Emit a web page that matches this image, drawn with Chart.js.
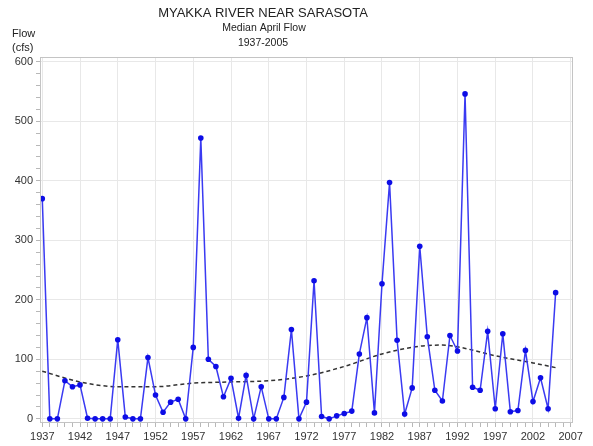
<!DOCTYPE html>
<html>
<head>
<meta charset="utf-8">
<script src="https://cdn.jsdelivr.net/npm/chart.js@4.4.1/dist/chart.umd.min.js"></script>
<style>
  html, body { margin: 0; padding: 0; background: #fff; }
  #wrap { width: 593px; height: 446px; }
</style>
</head>
<body>
<div id="wrap"><canvas id="flowChart" width="593" height="446"></canvas></div>
<script>
const years = [1937, 1938, 1939, 1940, 1941, 1942, 1943, 1944, 1945, 1946,
               1947, 1948, 1949, 1950, 1951, 1952, 1953, 1954, 1955, 1956,
               1957, 1958, 1959, 1960, 1961, 1962, 1963, 1964, 1965, 1966,
               1967, 1968, 1969, 1970, 1971, 1972, 1973, 1974, 1975, 1976,
               1977, 1978, 1979, 1980, 1981, 1982, 1983, 1984, 1985, 1986,
               1987, 1988, 1989, 1990, 1991, 1992, 1993, 1994, 1995, 1996,
               1997, 1998, 1999, 2000, 2001, 2002, 2003, 2004, 2005];
const medianFlow = [370, 0, 0, 64, 54, 57, 1, 0, 0, 0,
                    133, 3, 0, 0, 103, 40, 11, 28, 33, 0,
                    120, 472, 100, 88, 37, 68, 1, 73, 0, 54,
                    0, 0, 36, 150, 0, 28, 232, 4, 0, 5,
                    9, 13, 109, 170, 10, 227, 397, 132, 8, 52,
                    290, 138, 48, 30, 140, 114, 546, 53, 48, 147,
                    17, 143, 12, 14, 115, 29, 69, 17, 212];
// dashed trend curve, read at a few years
const trendYears = [1937, 1942, 1947, 1952, 1957, 1962, 1967, 1972, 1977, 1982, 1987, 1990, 1992, 1997, 2002, 2005];
const trendFlow  = [80, 62, 54, 54, 60, 62, 64, 72, 88, 109, 122, 124, 121, 106, 94, 86];
const yTicks = [0, 100, 200, 300, 400, 500, 600];

const FONT = "'Liberation Sans', Arial, sans-serif";

// frame + titles drawn on top
const decor = {
    id: "decor",
    afterDraw(chart) {
        const c = chart.ctx;
        const a = chart.chartArea;
        c.save();
        c.strokeStyle = "#c4c4c4";
        c.lineWidth = 1;
        c.strokeRect(a.left + 0.5, a.top + 0.5, a.right - a.left - 1, a.bottom - a.top - 1);

        c.fillStyle = "#222";
        c.textAlign = "center";
        c.textBaseline = "middle";
        c.font = "13px " + FONT;
        c.fillText("MYAKKA RIVER NEAR SARASOTA", 263, 13);
        c.font = "10.5px " + FONT;
        c.fillText("Median April Flow", 264, 28);
        c.fillText("1937-2005", 263, 43);

        c.textAlign = "left";
        c.font = "11px " + FONT;
        c.fillText("Flow", 12, 34);
        c.fillText("(cfs)", 12, 48);
        c.restore();
    }
};

const ctx = document.getElementById("flowChart").getContext("2d");
const chart = new Chart(ctx, {
    type: "line",
    data: {
        datasets: [{
            label: "Median April Flow",
            data: years.map((y, i) => ({ x: y, y: medianFlow[i] })),
            borderColor: "#3a3af2",
            borderWidth: 1.5,
            pointRadius: 2.8,
            pointBackgroundColor: "#0d0de6",
            pointBorderColor: "#0d0de6",
            pointBorderWidth: 0,
            tension: 0
        }, {
            label: "Trend",
            data: trendYears.map((y, i) => ({ x: y, y: trendFlow[i] })),
            borderColor: "#333",
            borderWidth: 1.5,
            borderDash: [4, 3],
            pointRadius: 0,
            cubicInterpolationMode: "monotone",
            fill: false
        }]
    },
    options: {
        responsive: false,
        animation: false,
        layout: { padding: { left: 0, right: 20, top: 57, bottom: 0 } },
        plugins: {
            legend: { display: false },
            tooltip: { enabled: false }
        },
        scales: {
            x: {
                type: "linear",
                min: 1936.7,
                max: 2007.3,
                afterBuildTicks(axis) {
                    const t = [];
                    for (let y = 1937; y <= 2007; y++) t.push({ value: y });
                    axis.ticks = t;
                },
                afterFit(axis) { axis.height = 23; },
                ticks: {
                    autoSkip: false,
                    maxRotation: 0,
                    padding: 3,
                    color: "#333",
                    font: { family: FONT, size: 11 },
                    callback: v => ((v - 1937) % 5 === 0 ? String(v) : "")
                },
                grid: {
                    color: c => (c.tick && (c.tick.value - 1937) % 5 === 0 ? "#e8e8e8" : "rgba(0,0,0,0)"),
                    tickColor: "#b8b8b8",
                    tickLength: 4
                },
                border: { display: false }
            },
            y: {
                min: -7,
                max: 608,
                afterBuildTicks(axis) {
                    const t = [];
                    for (let v = 0; v <= 600; v += 20) t.push({ value: v });
                    axis.ticks = t;
                },
                afterFit(axis) { axis.width = 40; },
                ticks: {
                    autoSkip: false,
                    padding: 3,
                    color: "#333",
                    font: { family: FONT, size: 11 },
                    callback: v => (yTicks.includes(v) ? String(v) : "")
                },
                grid: {
                    color: c => (c.tick && c.tick.value % 100 === 0 ? "#e8e8e8" : "rgba(0,0,0,0)"),
                    tickColor: "#b8b8b8",
                    tickLength: 4
                },
                border: { display: false }
            }
        }
    },
    plugins: [decor]
});
</script>
</body>
</html>
